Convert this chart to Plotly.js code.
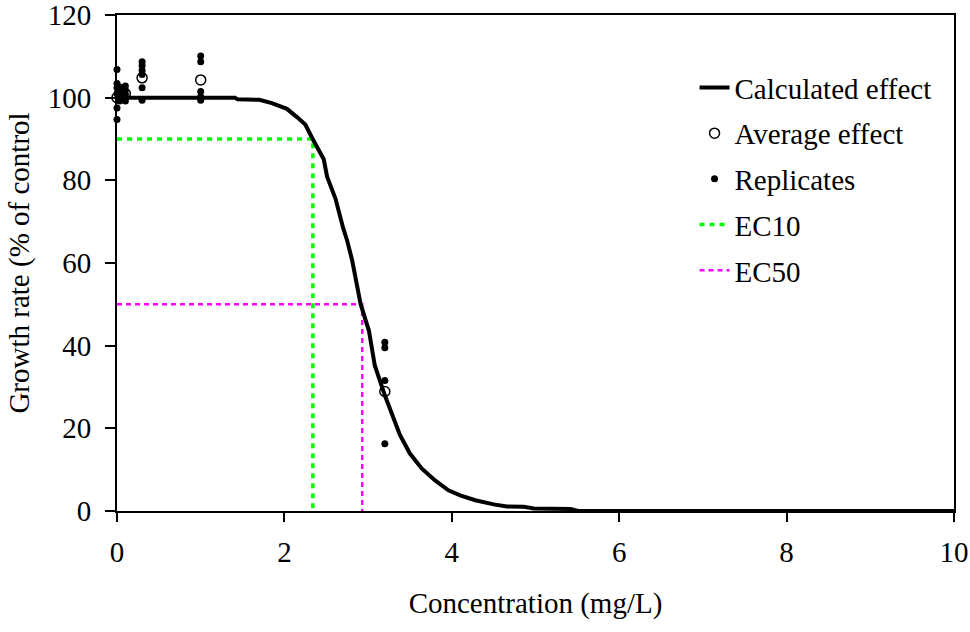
<!DOCTYPE html>
<html><head><meta charset="utf-8">
<script src="https://cdn.plot.ly/plotly-3.0.1.min.js"></script>
<style>html,body{margin:0;padding:0;background:#fff}#chart{width:970px;height:632px}</style>
</head><body><div id="chart"></div>
<script>
// Calculated effect curve (concentration mg/L, growth rate % of control)
const curveX = [0, 1.0, 1.41, 1.44, 1.70, 1.85, 1.93, 2.03, 2.15, 2.25, 2.33, 2.41, 2.47, 2.51, 2.61, 2.70, 2.75, 2.81, 2.91, 3.01, 3.06, 3.08, 3.20, 3.29, 3.38, 3.50, 3.64, 3.80, 3.96, 4.10, 4.28, 4.50, 4.66, 4.86, 4.98, 5.42, 5.51, 10];
const curveY = [100, 100, 100, 99.6, 99.5, 98.7, 98.0, 97.3, 95.3, 93.5, 90.3, 87.1, 85.1, 80.9, 75.6, 68.6, 65.4, 60.6, 50.1, 43.6, 37.2, 35.2, 28.0, 23.2, 18.4, 13.9, 10.3, 7.4, 5.0, 3.8, 2.6, 1.6, 1.1, 1.0, 0.6, 0.5, 0, 0];

// Test concentrations and replicate responses
const concentrations = [0, 0.032, 0.1, 0.3, 1.0, 3.2];
const rep0    = [106.8, 103.4, 102.4, 101.0, 97.5, 94.7];
const rep0032 = [102.6, 101.2, 100.0, 99.2];
const rep01   = [102.8, 101.8, 100.8, 100.0, 99.2];
const rep03   = [108.7, 107.7, 106.6, 105.6, 102.4, 99.4];
const rep1    = [110.1, 108.7, 101.5, 100.2, 99.4];
const rep32   = [40.8, 39.5, 31.6, 16.3];
const averageEffect = [100.0, 101.0, 101.0, 104.8, 104.3, 28.9];

// Effect concentrations
const ec10 = 2.34, ec10Level = 90;
const ec50 = 2.93, ec50Level = 50;

// Axis ticks
const xTicks = [0, 2, 4, 6, 8, 10];
const yTicks = [0, 20, 40, 60, 80, 100, 120];

const repGroups = [rep0, rep0032, rep01, rep03, rep1, rep32];
const repX = [], repY = [];
repGroups.forEach((g, i) => g.forEach(v => { repX.push(concentrations[i]); repY.push(v); }));

const FONT = '"Liberation Serif", "Times New Roman", Times, serif';

const traces = [
  {x: [0, ec10, ec10], y: [ec10Level, ec10Level, 0], name: 'EC10', mode: 'lines', legendrank: 4, legendgroup: 'g4',
   line: {color: '#00ff00', width: 3.5, dash: '5px,5px'}, cliponaxis: false, hoverinfo: 'skip'},
  {x: [0, ec50, ec50], y: [ec50Level, ec50Level, 0], name: 'EC50', mode: 'lines', legendrank: 5, legendgroup: 'g5',
   line: {color: '#ff00ff', width: 2.5, dash: '5px,4px'}, cliponaxis: false, hoverinfo: 'skip'},
  {x: curveX, y: curveY, name: 'Calculated effect', mode: 'lines', legendrank: 1, legendgroup: 'g1',
   line: {color: '#000', width: 4}, cliponaxis: false},
  {x: repX, y: repY, name: 'Replicates', mode: 'markers', legendrank: 3, legendgroup: 'g3',
   marker: {color: '#000', size: 7, symbol: 'circle'}, cliponaxis: false},
  {x: concentrations, y: averageEffect, name: 'Average effect', mode: 'markers', legendrank: 2, legendgroup: 'g2',
   marker: {color: '#000', size: 10, symbol: 'circle-open', line: {width: 1.5, color: '#000'}}, cliponaxis: false}
];

const layout = {
  width: 970, height: 632,
  margin: {l: 117, r: 16, t: 15, b: 121, pad: 0},
  paper_bgcolor: '#fff', plot_bgcolor: '#fff',
  font: {family: FONT, size: 29, color: '#000'},
  showlegend: true,
  xaxis: {
    range: [0, 10], tickmode: 'array', tickvals: xTicks, ticks: 'outside', ticklen: 9, tickwidth: 1.5, tickcolor: '#000',
    showline: true, linewidth: 2, linecolor: '#000', mirror: true, showgrid: false, zeroline: false,
    tickfont: {family: FONT, size: 29}, ticklabelstandoff: 5, ticklabeloverflow: 'allow',
    title: {text: 'Concentration (mg/L)', font: {family: FONT, size: 29}, standoff: 26}
  },
  yaxis: {
    range: [0, 120], tickmode: 'array', tickvals: yTicks, ticks: 'outside', ticklen: 10, tickwidth: 1.5, tickcolor: '#000',
    showline: true, linewidth: 2, linecolor: '#000', mirror: true, showgrid: false, zeroline: false,
    tickfont: {family: FONT, size: 29}, ticklabelstandoff: 8, ticklabeloverflow: 'allow',
    title: {text: 'Growth rate (% of control', font: {family: FONT, size: 29}, standoff: 10}
  },
  legend: {
    x: 0.69, y: 0.905, xanchor: 'left', yanchor: 'top', bgcolor: 'rgba(0,0,0,0)', borderwidth: 0,
    font: {family: FONT, size: 29, color: '#000'}, traceorder: 'grouped', tracegroupgap: 5, itemwidth: 30
  }
};

Plotly.newPlot('chart', traces, layout, {displayModeBar: false, responsive: false});
</script>
</body></html>
